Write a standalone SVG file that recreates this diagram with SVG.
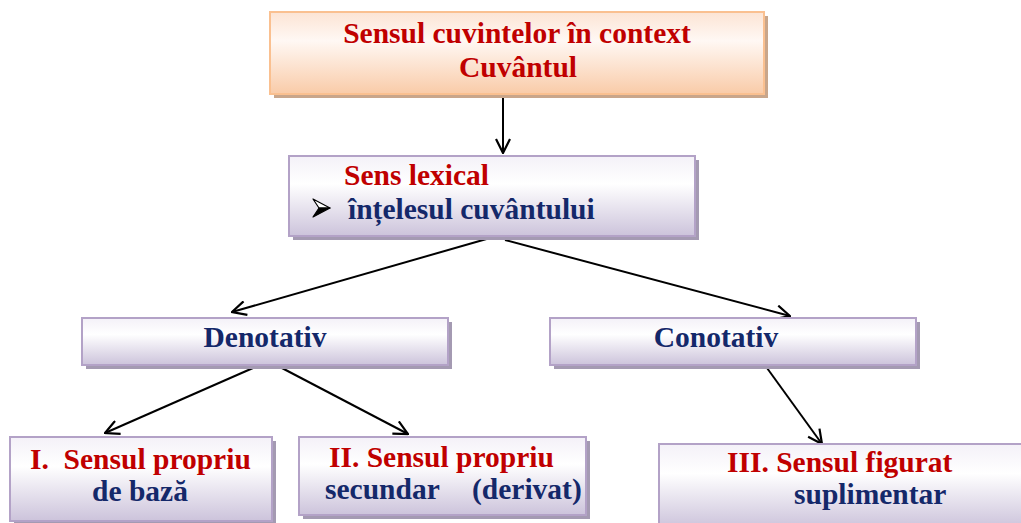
<svg xmlns="http://www.w3.org/2000/svg" width="1021" height="523" viewBox="0 0 1021 523">
<style>
.t{font-family:"Liberation Serif","Times New Roman",serif;font-weight:bold;font-size:29.5px}
.r{fill:#C00000}
.b{fill:#14286A}
.c{text-anchor:middle}
.box{fill:url(#gp);stroke:#B3A2C7;stroke-width:2}
.sh{fill:#A49AB2}
.con{fill:none;stroke:#000;stroke-width:2;marker-end:url(#ah)}
</style>
<defs>
<linearGradient id="gp" x1="0" y1="0" x2="0" y2="1">
<stop offset="0" stop-color="#F4F1F8"/>
<stop offset="0.35" stop-color="#FFFFFF"/>
<stop offset="1" stop-color="#CCC3DB"/>
</linearGradient>
<linearGradient id="go" x1="0" y1="0" x2="0" y2="1">
<stop offset="0" stop-color="#FCE4D4"/>
<stop offset="0.35" stop-color="#FFF8F4"/>
<stop offset="1" stop-color="#F9CBA8"/>
</linearGradient>
<marker id="ah" viewBox="0 0 16 16" refX="15" refY="8" markerWidth="16" markerHeight="16" markerUnits="userSpaceOnUse" orient="auto">
<path d="M1,1 L15,8 L1,15" fill="none" stroke="#000" stroke-width="2.2"/>
</marker>
</defs>
<g id="connectors">
<line class="con" x1="503" y1="93" x2="503" y2="153"/>
<line class="con" x1="490" y1="238" x2="232" y2="312"/>
<line class="con" x1="505" y1="240" x2="790" y2="316"/>
<line class="con" x1="253" y1="368" x2="105" y2="433"/>
<line class="con" x1="280" y1="367" x2="408" y2="434"/>
<line class="con" x1="767" y1="368" x2="822" y2="444"/>
</g>
<g id="node-top">
<rect x="274" y="16" width="494" height="82" fill="#C9A68B"/>
<rect x="270" y="12" width="494" height="82" fill="url(#go)" stroke="#FAC090" stroke-width="2"/>
<text class="t r c" x="517" y="43">Sensul cuvintelor în context</text>
<text class="t r c" x="518" y="77">Cuvântul</text>
</g>
<g id="node-lexical">
<rect x="293" y="160" width="406" height="80" class="sh"/>
<rect x="289" y="156" width="406" height="80" class="box"/>
<text class="t r" x="344" y="185">Sens lexical</text>
<path d="M313,199 L330,208 L319,208 Z" fill="#fff" stroke="#000" stroke-width="1.2" stroke-linejoin="round"/>
<path d="M313,217 L330,208 L319,208 Z" fill="#000" stroke="#000" stroke-width="1.2" stroke-linejoin="round"/>
<text class="t b" x="348" y="219">înțelesul cuvântului</text>
</g>
<g id="node-denotativ">
<rect x="86" y="322" width="366" height="47" class="sh"/>
<rect x="82" y="318" width="366" height="47" class="box"/>
<text class="t b c" x="265" y="347">Denotativ</text>
</g>
<g id="node-conotativ">
<rect x="554" y="322" width="366" height="47" class="sh"/>
<rect x="550" y="318" width="366" height="47" class="box"/>
<text class="t b c" x="716" y="347">Conotativ</text>
</g>
<g id="node-I">
<rect x="14" y="441" width="262" height="84" class="sh"/>
<rect x="10" y="437" width="262" height="84" class="box"/>
<text class="t r" x="30" y="469" xml:space="preserve">I.  Sensul propriu</text>
<text class="t b c" x="140" y="501">de bază</text>
</g>
<g id="node-II">
<rect x="303" y="441" width="287" height="78" class="sh"/>
<rect x="299" y="437" width="287" height="78" class="box"/>
<text class="t r" x="329" y="467">II. Sensul propriu</text>
<text class="t b" y="499"><tspan x="325">secundar</tspan><tspan x="472">(derivat)</tspan></text>
</g>
<g id="node-III">
<rect x="663" y="448" width="370" height="84" class="sh"/>
<rect x="659" y="444" width="370" height="84" class="box"/>
<text class="t r" x="727" y="472">III. Sensul figurat</text>
<text class="t b" x="794" y="504">suplimentar</text>
</g>
</svg>
